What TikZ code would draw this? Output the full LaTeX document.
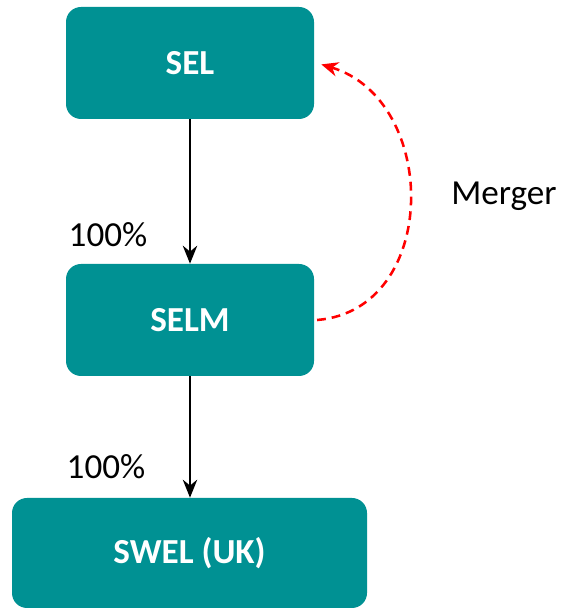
\documentclass[tikz,border=0pt]{standalone}
\usepackage{fontspec}
\setmainfont{Carlito}
\usetikzlibrary{arrows.meta}
\definecolor{boxteal}{RGB}{0,145,147}
\begin{document}
\begin{tikzpicture}[entity/.style={fill=boxteal,rounded corners=0.375cm,text=white,font=\fontsize{25}{30}\selectfont\bfseries,minimum height=2.8cm,minimum width=#1},
  label/.style={font=\fontsize{25}{30}\selectfont},
  owns/.style={-{Stealth[length=0.45cm,width=0.36cm]},line width=1.6pt}]
\useasboundingbox (0,0) rectangle (14.25,15.25);
\node[entity=6.2cm] (sel) at (4.75,13.675) {SEL};
\node[entity=6.2cm] (selm) at (4.75,7.25) {SELM};
\node[entity=8.875cm,minimum height=2.75cm] (swel) at (4.7375,1.425) {SWEL (UK)};
\draw[owns] (sel) -- (selm);
\draw[owns] (selm.south) -- (selm.south |- swel.north);
\draw (2.7,9.375) node[label] (own1) {100\%};
\draw (2.65,3.575) node[label] (own2) {100\%};
\draw (12.6,10.35) node[label] (merge) {Merger};
\draw[red,line width=1.8pt,dash pattern=on 0.22cm off 0.15cm,-{Stealth[length=0.42cm,width=0.36cm]}]
  ([xshift=2pt]selm.east) .. controls (11.0,7.5) and (11.0,12.75) .. ([xshift=5pt,yshift=-1pt]sel.east);
\end{tikzpicture}
\end{document}
